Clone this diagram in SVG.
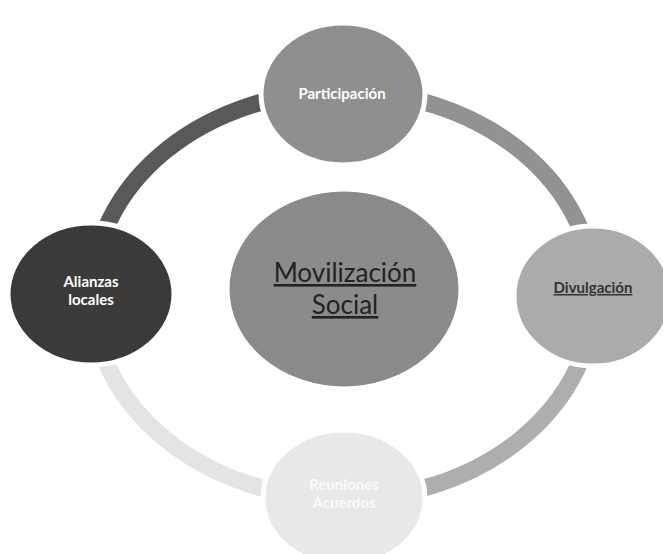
<svg xmlns="http://www.w3.org/2000/svg" width="663" height="554" viewBox="0 0 663 554">
<defs>
<style>
.arc{fill:none;stroke-width:17;stroke-linecap:butt}
.node{stroke:#fff;stroke-width:5}
.lbl{font-family:Lato,"Liberation Sans",sans-serif;font-weight:bold;font-size:15px;text-anchor:middle}
.big{font-family:Lato,"Liberation Sans",sans-serif;font-size:26px;text-anchor:middle;fill:#222;text-decoration:underline}
</style>
</defs>
<rect width="663" height="554" fill="#fff"/>
<g id="connectors">
<path class="arc" stroke="#595959" d="M92,295 A251,204 0 0 1 343,91"/>
<path class="arc" stroke="#929292" d="M343,91 A251,204 0 0 1 594,295"/>
<path class="arc" stroke="#aeaeae" d="M594,295 A251,204 0 0 1 343,499"/>
<path class="arc" stroke="#e4e4e4" d="M343,499 A251,204 0 0 1 92,295"/>
</g>
<g id="node-participacion">
<ellipse class="node" cx="343" cy="94" rx="82" ry="71" fill="#8f8f8f"/>
<text class="lbl" x="342" y="99" fill="#fff">Participación</text>
</g>
<g id="node-alianzas">
<ellipse class="node" cx="91" cy="294" rx="83" ry="71" fill="#3a3a3a"/>
<text class="lbl" x="91" y="287" fill="#fff">Alianzas</text>
<text class="lbl" x="91" y="305" fill="#fff">locales</text>
</g>
<g id="node-divulgacion">
<ellipse class="node" cx="593" cy="296" rx="79" ry="70" fill="#ababab"/>
<text class="lbl" x="593" y="293" fill="#333" text-decoration="underline">Divulgación</text>
</g>
<g id="node-acuerdos">
<ellipse class="node" cx="344" cy="498" rx="81" ry="68" fill="#e8e8e8"/>
<text class="lbl" x="344" y="490" fill="#fafafa">Reuniones</text>
<text class="lbl" x="344" y="508" fill="#fafafa">Acuerdos</text>
</g>
<g id="node-movilizacion">
<ellipse class="node" cx="344" cy="289" rx="117" ry="100" fill="#8b8b8b"/>
<text class="big" x="345" y="282">Movilización</text>
<text class="big" x="345" y="314">Social</text>
</g>
</svg>
